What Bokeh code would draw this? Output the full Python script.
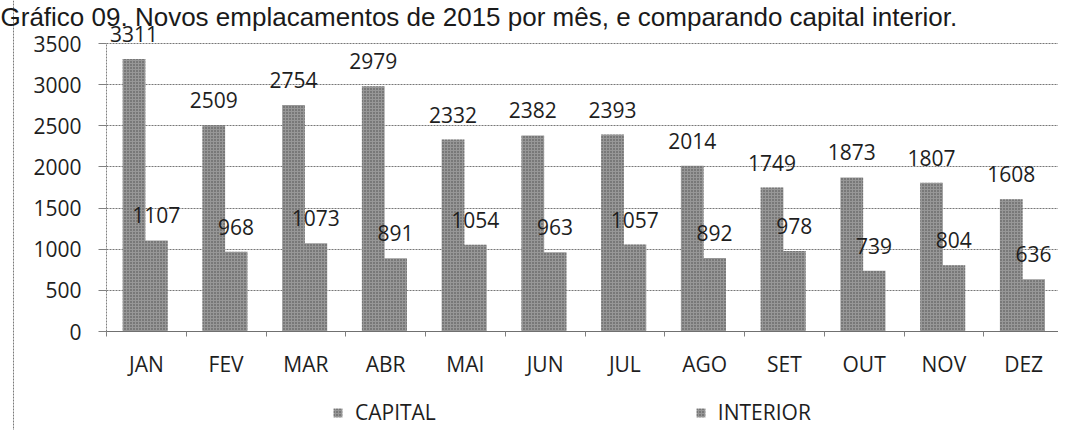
from bokeh.plotting import figure
from bokeh.models import (ColumnDataSource, Range1d, FixedTicker, Legend, LegendItem,
                          Label, Span)
from bokeh.transform import dodge
from bokeh.core.properties import value
from bokeh.embed import file_html
from bokeh.resources import INLINE

# ---- data ----
months = ["JAN", "FEV", "MAR", "ABR", "MAI", "JUN", "JUL", "AGO", "SET", "OUT", "NOV", "DEZ"]
capital = [3311, 2509, 2754, 2979, 2332, 2382, 2393, 2014, 1749, 1873, 1807, 1608]
interior = [1107, 968, 1073, 891, 1054, 963, 1057, 892, 978, 739, 804, 636]
y_ticks = [0, 500, 1000, 1500, 2000, 2500, 3000, 3500]
title_text = "Gráfico 09. Novos emplacamentos de 2015 por mês, e comparando capital interior."
series_names = ["CAPITAL", "INTERIOR"]

xs = [i + 0.5 for i in range(len(months))]
src = ColumnDataSource(dict(
    x=xs, month=months, capital=capital, interior=interior,
    capital_lbl=[str(v) for v in capital], interior_lbl=[str(v) for v in interior],
))

FONT = "Open Sans"
TXT = "#1e1e1e"
W, H = 1058, 430
# layout (pixels inside the canvas): plot area starts at x=106, 79.75 px per month,
# value 0 at y=331, 3500 at y=43
X0, CAT_PX = 106.0, 79.75
Y0, YTOP = 331.0, 43.0
val_px = (Y0 - YTOP) / y_ticks[-1]

p = figure(width=W, height=H, output_backend="svg", toolbar_location=None,
           x_range=Range1d(-X0 / CAT_PX, (W - X0) / CAT_PX),
           y_range=Range1d(-(H - Y0) / val_px, Y0 / val_px),
           min_border=0)
p.outline_line_color = None
p.background_fill_color = "white"
p.border_fill_color = "white"

bar_w = 0.285
common = dict(fill_color="#979797", line_color=None, hatch_pattern="dot",
              hatch_color="#474747", hatch_scale=3, hatch_weight=1.2)
r1 = p.vbar(x=dodge("x", -0.155, range=p.x_range), top="capital", width=bar_w, source=src, **common)
r2 = p.vbar(x=dodge("x", 0.125, range=p.x_range), top="interior", width=bar_w, source=src, **common)

lbl = dict(text_align="center", text_baseline="middle", text_font=value(FONT),
           text_font_size="21px", text_color=TXT, y_offset=-25, source=src)
p.text(x=dodge("x", -0.155, range=p.x_range), y="capital", text="capital_lbl", **lbl)
p.text(x=dodge("x", 0.125, range=p.x_range), y="interior", text="interior_lbl", **lbl)

# axes (drawn inside the canvas at fixed locations)
yax = p.yaxis[0]
yax.fixed_location = 0
yax.bounds = (0, y_ticks[-1])
yax.ticker = FixedTicker(ticks=y_ticks)
yax.axis_line_color = "#808080"
yax.axis_line_dash = "2 1"
yax.major_tick_line_color = "#808080"
yax.major_tick_out = 8
yax.major_tick_in = 0
yax.minor_tick_line_color = None
yax.major_label_standoff = 17
yax.major_label_text_font = FONT
yax.major_label_text_font_size = "21px"
yax.major_label_text_color = TXT

xax = p.xaxis[0]
xax.fixed_location = 0
xax.bounds = (0, len(months))
xax.ticker = FixedTicker(ticks=xs, minor_ticks=list(range(len(months) + 1)))
xax.major_label_overrides = {x: m for x, m in zip(xs, months)}
xax.axis_line_color = "#707070"
xax.major_tick_line_color = None
xax.major_tick_out = 0
xax.major_tick_in = 0
xax.minor_tick_line_color = "#808080"
xax.minor_tick_out = 5
xax.minor_tick_in = 0
xax.major_label_standoff = 13
xax.major_label_text_font = FONT
xax.major_label_text_font_size = "21px"
xax.major_label_text_color = TXT

p.xgrid.grid_line_color = None
p.ygrid.grid_line_color = "#777777"
p.ygrid.grid_line_dash = "2 1"
p.ygrid.grid_line_width = 1
p.ygrid.cross_bounds = (0, len(months))

# legend
legend = Legend(items=[LegendItem(label=series_names[0], renderers=[r1]),
                       LegendItem(label=series_names[1], renderers=[r2])],
                orientation="horizontal", location=(332, 4),
                glyph_width=11, glyph_height=11, label_standoff=12, spacing=259,
                padding=0, margin=0, label_text_font=FONT, label_text_font_size="21px",
                label_text_color=TXT, background_fill_alpha=0, border_line_alpha=0)
p.add_layout(legend, "center")

# outer chart border (left edge) and title
p.add_layout(Span(location=(13 - X0) / CAT_PX, dimension="height",
                  line_color="#7a7a7a", line_dash="2 1", line_width=1))
p.add_layout(Label(x=0, y=H - 1, x_units="screen", y_units="screen", text=title_text,
                   text_font="Liberation Sans", text_font_size="26px",
                   text_color="#1a1a1a", text_baseline="top", text_align="left"))

open("out.html", "w").write(file_html(p, INLINE))
